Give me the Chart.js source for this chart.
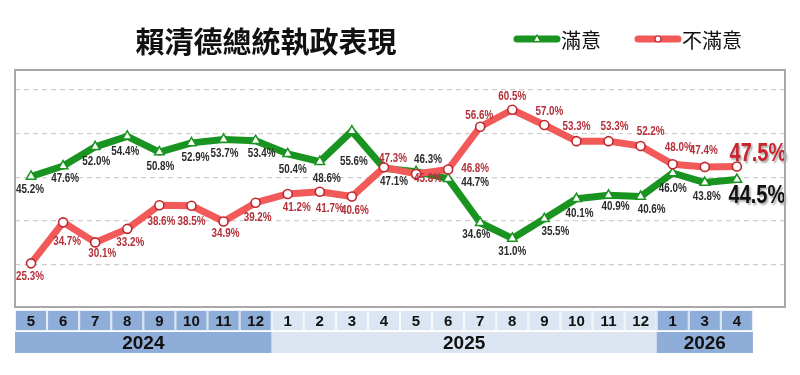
<!DOCTYPE html>
<html><head><meta charset="utf-8">
<script src="https://cdn.jsdelivr.net/npm/chart.js@4"></script>
<style>html,body{margin:0;padding:0;background:#fff}#wrap{width:800px;height:375px;position:relative}</style>
</head><body><div id="wrap"><canvas id="c" width="800" height="375"></canvas></div>
<script>
// ---- data ----
const months = ['5','6','7','8','9','10','11','12','1','2','3','4','5','6','7','8','9','10','11','12','1','3','4'];
const years = ['2024','2025','2026'];
const yearSpans = [8, 12, 3];
const satisfied = [45.2,47.6,52.0,54.4,50.8,52.9,53.7,53.4,50.4,48.6,55.6,47.1,46.3,44.7,34.6,31.0,35.5,40.1,40.9,40.6,46.0,43.8,44.5];
const dissatisfied = [25.3,34.7,30.1,33.2,38.6,38.5,34.9,39.2,41.2,41.7,40.6,47.3,45.8,46.8,56.6,60.5,57.0,53.3,53.3,52.2,48.0,47.4,47.5];
const yTicks = [25,35,45,55,65];
const titleText = '賴清德總統執政表現';
const seriesNames = ['滿意','不滿意'];

// ---- label placement (offset from point, px) ----
const satLabelOff = [[-1,13],[2,13],[1,15],[-2,15],[1,15],[4,15],[1,14],[6,13],[5,16],[7,17],[2,31],[10,13],[12,-12],[27,4],[-4,12],[0,13],[11,13],[3,15],[7,11],[11,13],[0,16],[2,14],[20,17]];
const disLabelOff = [[-1,13],[4,19],[7,11],[3,14],[2,16],[0,16],[2,12],[2,15],[9,14],[10,17],[3,14],[9,-9],[12,5],[27,-1],[-1,-11],[0,-13],[5,-13],[0,-14],[6,-14],[10,-14],[6,-17],[-1,-16],[21,-12]];

const GREEN = '#1a9420';
const RED = '#f25a5a';
const RED_DARK = '#c0282d';
const LABEL_RED = '#b3303a';
const LABEL_DARK = '#2b2b2b';
const SANS = '"Liberation Sans",Arial,sans-serif';

function narrowText(ctx, txt, x, y, sx) {
  ctx.save();
  ctx.translate(x, y);
  ctx.scale(sx, 1);
  ctx.fillText(txt, 0, 0);
  ctx.restore();
}

const decor = {
  id: 'decor',
  afterDraw(chart) {
    const ctx = chart.ctx, a = chart.chartArea, xs = chart.scales.x;
    ctx.save();
    // frame
    ctx.strokeStyle = '#a8a8a8'; ctx.lineWidth = 2;
    ctx.strokeRect(a.left, a.top, a.right - a.left, a.bottom - a.top);
    // title
    ctx.fillStyle = '#111';
    ctx.font = 'bold 29px "Noto Sans CJK TC"';
    ctx.textAlign = 'center'; ctx.textBaseline = 'middle';
    ctx.fillText(titleText, 266, 42);
    // legend
    const legend = [
      {x0: 517, x1: 557, tx: 561, color: GREEN, style: 'tri'},
      {x0: 638, x1: 678, tx: 682, color: RED, style: 'circ'}
    ];
    legend.forEach((l, k) => {
      const y = 39;
      ctx.strokeStyle = l.color; ctx.lineWidth = 7; ctx.lineCap = 'round';
      ctx.beginPath(); ctx.moveTo(l.x0, y); ctx.lineTo(l.x1, y); ctx.stroke();
      const cx = (l.x0 + l.x1) / 2;
      ctx.fillStyle = '#fff'; ctx.lineWidth = 1.2;
      if (l.style === 'tri') {
        ctx.strokeStyle = GREEN;
        ctx.beginPath(); ctx.moveTo(cx, y - 4); ctx.lineTo(cx + 3.5, y + 2.5); ctx.lineTo(cx - 3.5, y + 2.5); ctx.closePath();
        ctx.fill(); ctx.stroke();
      } else {
        ctx.strokeStyle = RED_DARK;
        ctx.beginPath(); ctx.arc(cx, y, 3, 0, Math.PI * 2); ctx.fill(); ctx.stroke();
      }
      ctx.fillStyle = '#111';
      ctx.font = '20px "Noto Sans CJK TC"';
      ctx.textAlign = 'left'; ctx.textBaseline = 'middle';
      ctx.fillText(seriesNames[k], l.tx, y + 1);
    });
    // month / year table
    const rowTop = a.bottom + 3, rowH = 21;
    let idx = 0;
    years.forEach((yr, g) => {
      const dark = g !== 1;
      const fill = dark ? '#8fadd9' : '#dce6f2';
      const start = idx, end = idx + yearSpans[g] - 1;
      for (let i = start; i <= end; i++) {
        const l = xs.getPixelForValue(i - 0.5), r = xs.getPixelForValue(i + 0.5);
        ctx.fillStyle = fill;
        ctx.fillRect(l, rowTop, r - l, rowH);
        ctx.strokeStyle = 'rgba(255,255,255,0.85)'; ctx.lineWidth = 1;
        ctx.strokeRect(l + 0.5, rowTop + 0.5, r - l - 1, rowH - 1);
        ctx.fillStyle = '#111';
        ctx.font = 'bold 15px ' + SANS;
        ctx.textAlign = 'center'; ctx.textBaseline = 'middle';
        ctx.fillText(months[i], (l + r) / 2, rowTop + rowH / 2 + 1);
      }
      const gl = xs.getPixelForValue(start - 0.5), gr = xs.getPixelForValue(end + 0.5);
      ctx.fillStyle = fill;
      ctx.fillRect(gl, rowTop + rowH + 1, gr - gl, rowH);
      ctx.fillStyle = '#111';
      ctx.font = 'bold 19px ' + SANS;
      ctx.fillText(yr, (gl + gr) / 2, rowTop + rowH + 1 + rowH / 2 + 1);
      idx += yearSpans[g];
    });
    ctx.restore();
  },
  afterDatasetsDraw(chart) {
    const ctx = chart.ctx;
    ctx.save();
    ctx.textAlign = 'center'; ctx.textBaseline = 'middle';
    chart.data.datasets.forEach((ds, di) => {
      const meta = chart.getDatasetMeta(di);
      const offs = di === 0 ? satLabelOff : disLabelOff;
      const col = di === 0 ? LABEL_DARK : LABEL_RED;
      meta.data.forEach((pt, i) => {
        const v = ds.data[i].y;
        const txt = v.toFixed(1) + '%';
        const [dx, dy] = offs[i];
        const last = i === meta.data.length - 1;
        ctx.save();
        if (last) {
          ctx.font = 'bold 25px ' + SANS;
          ctx.shadowColor = 'rgba(0,0,0,0.35)';
          ctx.shadowOffsetX = 1.5; ctx.shadowOffsetY = 1.5; ctx.shadowBlur = 2;
          ctx.fillStyle = di === 0 ? '#111' : '#c8262e';
          narrowText(ctx, txt, pt.x + dx, pt.y + dy, 0.8);
        } else {
          ctx.font = 'bold 12px ' + SANS;
          ctx.fillStyle = col;
          narrowText(ctx, txt, pt.x + dx, pt.y + dy, 0.82);
        }
        ctx.restore();
      });
    });
    ctx.restore();
  }
};

new Chart(document.getElementById('c'), {
  type: 'line',
  data: {
    datasets: [
      {
        label: seriesNames[0],
        data: satisfied.map((v, i) => ({x: i, y: v})),
        borderColor: GREEN, borderWidth: 7,
        pointStyle: 'triangle', pointRadius: 5.5,
        pointBackgroundColor: '#fff', pointBorderColor: GREEN, pointBorderWidth: 1.5,
        borderJoinStyle: 'round', borderCapStyle: 'round',
        tension: 0, order: 1
      },
      {
        label: seriesNames[1],
        data: dissatisfied.map((v, i) => ({x: i, y: v})),
        borderColor: RED, borderWidth: 7,
        pointStyle: 'circle', pointRadius: 4.5,
        pointBackgroundColor: '#fff', pointBorderColor: RED_DARK, pointBorderWidth: 1.6,
        borderJoinStyle: 'round', borderCapStyle: 'round',
        tension: 0, order: 0
      }
    ]
  },
  options: {
    responsive: false, animation: false, devicePixelRatio: 1,
    layout: {padding: {left: 15, right: 15, top: 70, bottom: 68}},
    plugins: {legend: {display: false}, tooltip: {enabled: false}, title: {display: false}},
    scales: {
      x: {type: 'linear', min: -0.5, max: 23.5, display: false},
      y: {
        min: 15.3, max: 69.6,
        afterBuildTicks: s => { s.ticks = yTicks.map(v => ({value: v})); },
        ticks: {display: false},
        grid: {color: '#cfcfcf', lineWidth: 1.3, drawTicks: false},
        border: {display: false, dash: [5, 4]}
      }
    }
  },
  plugins: [decor]
});
</script>
</body></html>
